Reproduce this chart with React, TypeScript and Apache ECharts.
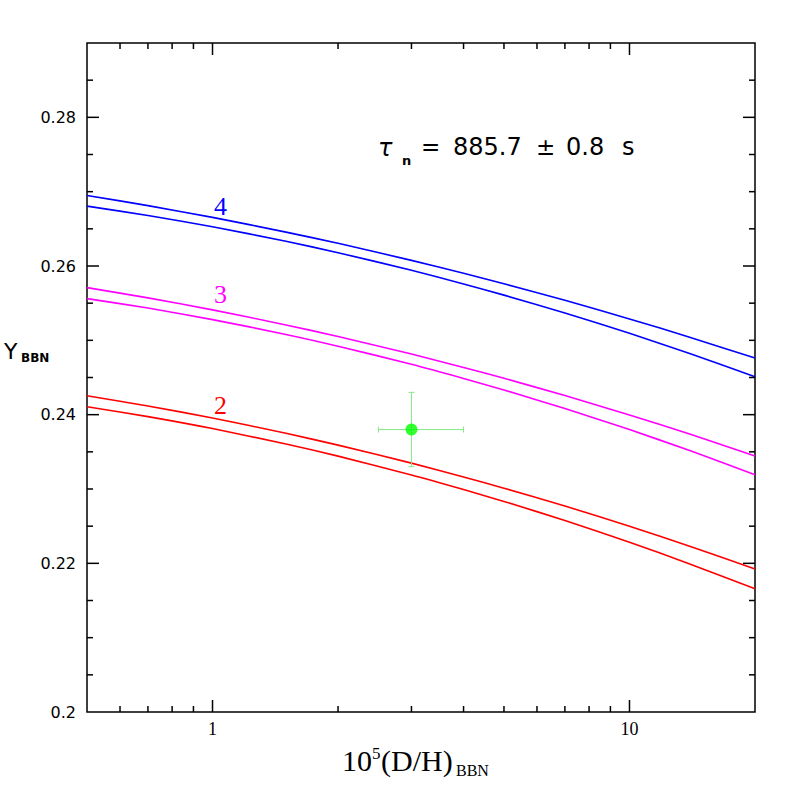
import React, { useEffect, useRef } from 'react';
import * as echarts from 'echarts';

// 10^5 (D/H)_BBN sample positions
const dh = [0.5, 0.7, 1, 1.5, 2, 3, 4, 5, 7, 10, 14, 20];

// N_nu = 4 (blue)
const n4Upper = [0.26949, 0.26812, 0.26654, 0.26456, 0.26305, 0.26076, 0.25902, 0.25761, 0.25538, 0.25288, 0.25039, 0.24761];
const n4Lower = [0.26805, 0.2668, 0.26528, 0.26332, 0.26179, 0.25942, 0.25759, 0.25608, 0.25368, 0.25095, 0.24819, 0.24509];
// N_nu = 3 (magenta)
const n3Upper = [0.25709, 0.25571, 0.2541, 0.25207, 0.25052, 0.24815, 0.24635, 0.24489, 0.24257, 0.23996, 0.23736, 0.23445];
const n3Lower = [0.25561, 0.25434, 0.25279, 0.25079, 0.24921, 0.24677, 0.24487, 0.24332, 0.24083, 0.23799, 0.23513, 0.23191];
// N_nu = 2 (red)
const n2Upper = [0.24255, 0.24117, 0.23955, 0.23749, 0.2359, 0.23348, 0.23162, 0.23011, 0.22771, 0.225, 0.22228, 0.21925];
const n2Lower = [0.24107, 0.23974, 0.23813, 0.23605, 0.23442, 0.23189, 0.22993, 0.22833, 0.22576, 0.22283, 0.21989, 0.21658];

// observation with error bars: [x, y, xLow, xHigh, yLow, yHigh]
const observation = [3.0, 0.238, 2.5, 4.0, 0.233, 0.243];

// curve labels
const curveLabels = ['4', '3', '2'];
const curveLabelX = [1.045, 1.045, 1.045];
const curveLabelY = [0.2680, 0.2561, 0.2412];
const curveColors = ['#0000ff', '#ff00ff', '#ff0000'];

// ticks
const xMajorTicks = [1, 10];
const xMinorTicks = [0.6, 0.7, 0.8, 0.9, 2, 3, 4, 5, 6, 7, 8, 9];
const yMajorTicks = [0.22, 0.24, 0.26, 0.28];
const yMinorTicks = [0.205, 0.21, 0.215, 0.225, 0.23, 0.235, 0.245, 0.25, 0.255, 0.265, 0.27, 0.275, 0.285];

const pairs = (ys: number[]) => dh.map((x, i) => [x, ys[i]]);

export default function App() {
  const ref = useRef<HTMLDivElement>(null);
  useEffect(() => {
    if (!ref.current) return;
    const chart = echarts.init(ref.current, undefined, { renderer: 'svg' });

    const tickData: number[][] = [];
    xMajorTicks.forEach((v) => tickData.push([v, 0.2, 12, 0]));
    xMinorTicks.forEach((v) => tickData.push([v, 0.2, 6, 0]));
    yMajorTicks.forEach((v) => tickData.push([1, v, 12, 1]));
    yMinorTicks.forEach((v) => tickData.push([1, v, 6, 1]));

    const lineSeries = (name: string, ys: number[], color: string, labelIdx: number | null) => {
      const s: any = {
        name,
        type: 'line',
        data: pairs(ys),
        showSymbol: false,
        symbol: 'none',
        smooth: 0.25,
        lineStyle: { color, width: 1.6 },
        z: 3,
      };
      if (labelIdx !== null) {
        s.markPoint = {
          symbol: 'circle',
          symbolSize: 0,
          silent: true,
          data: [
            {
              coord: [curveLabelX[labelIdx], curveLabelY[labelIdx]],
              label: {
                show: true,
                formatter: curveLabels[labelIdx],
                color,
                fontFamily: 'Liberation Serif',
                fontSize: 26,
                position: 'inside',
              },
            },
          ],
        };
      }
      return s;
    };

    const option: any = {
      animation: false,
      backgroundColor: '#ffffff',
      grid: {
        left: 87,
        top: 43,
        right: 42,
        bottom: 85,
        show: true,
        borderColor: '#000',
        borderWidth: 1.5,
        backgroundColor: 'transparent',
      },
      xAxis: {
        type: 'log',
        logBase: 10,
        min: 0.5,
        max: 20,
        axisLine: { show: false },
        axisTick: { show: false },
        splitLine: { show: false },
        minorTick: { show: false },
        axisLabel: {
          showMinLabel: false,
          showMaxLabel: false,
          margin: 8,
          color: '#000',
          fontFamily: 'Liberation Serif',
          fontSize: 18,
          formatter: (v: number) =>
            Math.abs(v - 1) < 1e-9 || Math.abs(v - 10) < 1e-9 ? String(Math.round(v)) : '',
        },
      },
      yAxis: {
        type: 'value',
        min: 0.2,
        max: 0.29,
        interval: 0.02,
        axisLine: { show: false },
        axisTick: { show: false },
        splitLine: { show: false },
        axisLabel: {
          showMaxLabel: false,
          margin: 11,
          color: '#000',
          fontFamily: 'DejaVu Sans',
          fontSize: 16,
          formatter: (v: number) => String(Number(v.toFixed(3))),
        },
      },
      series: [
        lineSeries('N4 upper', n4Upper, curveColors[0], 0),
        lineSeries('N4 lower', n4Lower, curveColors[0], null),
        lineSeries('N3 upper', n3Upper, curveColors[1], 1),
        lineSeries('N3 lower', n3Lower, curveColors[1], null),
        lineSeries('N2 upper', n2Upper, curveColors[2], 2),
        lineSeries('N2 lower', n2Lower, curveColors[2], null),
        {
          type: 'custom',
          name: 'ticks',
          silent: true,
          clip: false,
          z: 5,
          data: tickData,
          encode: { x: 0, y: 1 },
          renderItem: (params: any, api: any) => {
            const cs = params.coordSys;
            const len = api.value(2);
            const kind = api.value(3);
            const style = { stroke: '#000', lineWidth: 1.5 };
            if (kind === 0) {
              const p = api.coord([api.value(0), 0.25]);
              const yb = cs.y + cs.height;
              return {
                type: 'group',
                children: [
                  { type: 'line', shape: { x1: p[0], y1: yb, x2: p[0], y2: yb - len }, style },
                  { type: 'line', shape: { x1: p[0], y1: cs.y, x2: p[0], y2: cs.y + len }, style },
                ],
              };
            }
            const p = api.coord([1, api.value(1)]);
            const xr = cs.x + cs.width;
            return {
              type: 'group',
              children: [
                { type: 'line', shape: { x1: cs.x, y1: p[1], x2: cs.x + len, y2: p[1] }, style },
                { type: 'line', shape: { x1: xr, y1: p[1], x2: xr - len, y2: p[1] }, style },
              ],
            };
          },
        },
        {
          type: 'custom',
          name: 'error bars',
          silent: true,
          z: 6,
          data: [observation],
          encode: { x: 0, y: 1 },
          renderItem: (params: any, api: any) => {
            const y = api.value(1);
            const x = api.value(0);
            const l = api.coord([api.value(2), y]);
            const r = api.coord([api.value(3), y]);
            const b = api.coord([x, api.value(4)]);
            const t = api.coord([x, api.value(5)]);
            const style = { stroke: '#86e886', lineWidth: 1 };
            const cap = 3;
            return {
              type: 'group',
              children: [
                { type: 'line', shape: { x1: l[0], y1: l[1], x2: r[0], y2: r[1] }, style },
                { type: 'line', shape: { x1: t[0], y1: t[1], x2: b[0], y2: b[1] }, style },
                { type: 'line', shape: { x1: l[0], y1: l[1] - cap, x2: l[0], y2: l[1] + cap }, style },
                { type: 'line', shape: { x1: r[0], y1: r[1] - cap, x2: r[0], y2: r[1] + cap }, style },
                { type: 'line', shape: { x1: t[0] - cap, y1: t[1], x2: t[0] + cap, y2: t[1] }, style },
                { type: 'line', shape: { x1: b[0] - cap, y1: b[1], x2: b[0] + cap, y2: b[1] }, style },
              ],
            };
          },
        },
        {
          type: 'scatter',
          name: 'observation',
          data: [[observation[0], observation[1]]],
          symbol: 'circle',
          symbolSize: 12,
          itemStyle: { color: '#00ff00' },
          z: 7,
        },
      ],
      graphic: [
        // title: tau_n = 885.7 ± 0.8 s
        { type: 'text', left: 378, top: 136, style: { text: 'τ', font: 'oblique 24px "DejaVu Sans"', fill: '#000' } },
        { type: 'text', left: 402, top: 154, style: { text: 'n', font: 'bold 13px "DejaVu Sans"', fill: '#000' } },
        { type: 'text', left: 421, top: 135, style: { text: '=', font: '23px "DejaVu Sans"', fill: '#000' } },
        { type: 'text', left: 453, top: 135, style: { text: '885.7', font: '24px "DejaVu Sans"', fill: '#000' } },
        { type: 'text', left: 536, top: 135, style: { text: '±', font: '23px "DejaVu Sans"', fill: '#000' } },
        { type: 'text', left: 566, top: 135, style: { text: '0.8', font: '24px "DejaVu Sans"', fill: '#000' } },
        { type: 'text', left: 622, top: 135, style: { text: 's', font: '24px "DejaVu Sans"', fill: '#000' } },
        // y axis title
        { type: 'text', left: 4, top: 340, style: { text: 'Y', font: '22px "DejaVu Sans"', fill: '#000' } },
        { type: 'text', left: 21, top: 352, style: { text: 'BBN', font: 'bold 12px "DejaVu Sans"', fill: '#000' } },
        // x axis title
        { type: 'text', left: 342, top: 745, style: { text: '10', font: '30px "Liberation Serif"', fill: '#000' } },
        { type: 'text', left: 372, top: 745, style: { text: '5', font: '17px "Liberation Serif"', fill: '#000' } },
        { type: 'text', left: 381, top: 745, style: { text: '(D/H)', font: '30px "Liberation Serif"', fill: '#000' } },
        { type: 'text', left: 456, top: 762, style: { text: 'BBN', font: '16px "Liberation Serif"', fill: '#000' } },
      ],
    };

    chart.setOption(option);
    return () => chart.dispose();
  }, []);

  return (
    <div
      ref={ref}
      style={{ position: 'fixed', left: 0, top: 0, width: 797, height: 797, background: '#fff' }}
    />
  );
}
